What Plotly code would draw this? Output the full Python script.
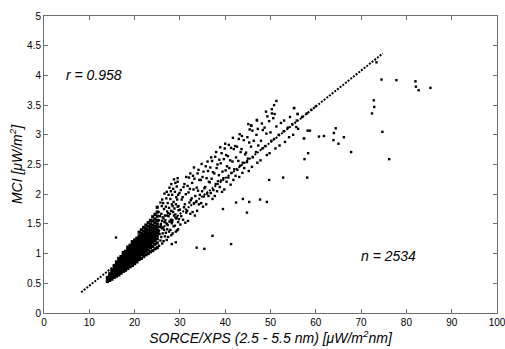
import plotly.graph_objects as go

# ---- dense core: columns of x with the y values read in each column ----
core_x = [14.0, 14.5, 15.0, 15.5, 16.0, 16.5, 17.0, 17.5, 18.0, 18.5, 19.0, 19.5,
          20.0, 20.5, 21.0, 21.5, 22.0, 22.5, 23.0, 23.5, 24.0, 24.5, 25.0]
core_y = [
    [0.53, 0.56, 0.60],
    [0.55, 0.58, 0.62, 0.66],
    [0.57, 0.61, 0.65, 0.69, 0.73],
    [0.60, 0.64, 0.68, 0.72, 0.76, 0.80],
    [0.62, 0.66, 0.70, 0.74, 0.78, 0.82, 0.86],
    [0.64, 0.68, 0.72, 0.76, 0.80, 0.84, 0.88, 0.92],
    [0.67, 0.71, 0.75, 0.79, 0.83, 0.87, 0.91, 0.95],
    [0.70, 0.74, 0.78, 0.82, 0.86, 0.90, 0.94, 0.98, 1.02],
    [0.72, 0.76, 0.80, 0.84, 0.88, 0.92, 0.96, 1.00, 1.04],
    [0.75, 0.79, 0.83, 0.87, 0.91, 0.95, 0.99, 1.03, 1.07, 1.11],
    [0.78, 0.82, 0.86, 0.90, 0.94, 0.98, 1.02, 1.06, 1.10, 1.14],
    [0.80, 0.84, 0.88, 0.92, 0.96, 1.00, 1.04, 1.08, 1.12, 1.16, 1.20],
    [0.83, 0.87, 0.91, 0.95, 0.99, 1.03, 1.07, 1.11, 1.15, 1.19, 1.23],
    [0.86, 0.90, 0.94, 0.98, 1.02, 1.06, 1.10, 1.14, 1.18, 1.22, 1.26],
    [0.90, 0.94, 0.98, 1.02, 1.06, 1.10, 1.14, 1.18, 1.22, 1.26, 1.30, 1.36],
    [0.92, 0.98, 1.02, 1.06, 1.10, 1.14, 1.18, 1.22, 1.26, 1.30, 1.34, 1.40],
    [0.95, 1.00, 1.05, 1.09, 1.13, 1.17, 1.21, 1.25, 1.29, 1.33, 1.38, 1.44],
    [0.98, 1.04, 1.08, 1.12, 1.16, 1.20, 1.24, 1.28, 1.32, 1.37, 1.42, 1.48],
    [1.00, 1.06, 1.11, 1.15, 1.19, 1.23, 1.27, 1.31, 1.35, 1.40, 1.46, 1.52],
    [1.03, 1.10, 1.15, 1.19, 1.23, 1.27, 1.31, 1.35, 1.40, 1.45, 1.50, 1.56],
    [1.05, 1.12, 1.18, 1.22, 1.26, 1.30, 1.34, 1.38, 1.43, 1.48, 1.55, 1.62],
    [1.08, 1.16, 1.22, 1.27, 1.32, 1.36, 1.41, 1.46, 1.52, 1.58, 1.66],
    [1.10, 1.18, 1.25, 1.30, 1.35, 1.40, 1.45, 1.50, 1.56, 1.63, 1.70, 1.78],
]

# ---- transition zone, x 25-30 ----
trans_x = [
    25.4, 25.7, 25.5, 25.3, 25.6, 25.8, 25.4, 25.6, 25.3, 25.7,
    26.1, 25.9, 26.2, 26.0, 25.8, 26.1, 26.2, 25.9, 26.0, 26.1,
    26.4, 26.7, 26.5, 26.3, 26.6, 26.4, 26.7, 26.5, 26.3, 26.6,
    27.1, 26.9, 27.2, 27.0, 26.8, 27.1, 27.2, 26.9, 27.0, 27.1,
    27.4, 27.6, 27.3, 27.7, 27.5, 27.4, 27.6, 27.3, 27.5, 27.7,
    28.1, 27.9, 28.2, 28.0, 27.8, 28.1, 28.2, 27.9, 28.0, 28.1,
    28.4, 28.6, 28.3, 28.7, 28.5, 28.4, 28.6, 28.3, 28.5, 28.7,
    29.1, 28.9, 29.2, 29.0, 28.8, 29.1, 29.2, 28.9, 29.0,
    29.4, 29.6, 29.3, 29.7, 29.5, 29.4, 29.6, 29.3, 29.5,
]
trans_y = [
    1.13, 1.22, 1.33, 1.37, 1.45, 1.50, 1.56, 1.63, 1.70, 1.86,
    1.17, 1.28, 1.34, 1.43, 1.47, 1.55, 1.61, 1.67, 1.80, 1.91,
    1.21, 1.29, 1.40, 1.44, 1.53, 1.59, 1.64, 1.75, 1.85, 2.01,
    1.23, 1.35, 1.41, 1.51, 1.56, 1.64, 1.71, 1.79, 1.93, 2.04,
    1.28, 1.37, 1.48, 1.54, 1.63, 1.68, 1.77, 1.85, 1.99, 2.11,
    1.31, 1.40, 1.51, 1.57, 1.67, 1.72, 1.83, 1.92, 2.05, 2.17,
    1.34, 1.46, 1.54, 1.64, 1.70, 1.80, 1.87, 1.99, 2.09, 2.25,
    1.37, 1.47, 1.59, 1.66, 1.76, 1.83, 1.95, 2.04, 2.19,
    1.39, 1.53, 1.61, 1.73, 1.79, 1.91, 1.99, 2.13, 2.27,
]

# ---- sparser cloud, x 30-60 ----
cloud_x = [
    29.6, 30.1, 29.8, 30.3, 30.0, 29.7, 30.4, 29.9, 30.2, 29.5,
    31.2, 30.7, 31.4, 30.9, 31.1, 30.6, 31.3, 30.8, 31.0, 31.4,
    31.8, 32.3, 31.6, 32.1, 32.4, 31.9, 32.2, 31.7, 32.0, 32.3,
    33.3, 32.8, 33.1, 32.6, 33.4, 33.0, 32.7, 33.2, 32.9, 33.1,
    33.8, 34.2, 33.6, 34.4, 34.0, 33.7, 34.3, 33.9, 34.1,
    35.1, 34.7, 35.3, 34.9, 35.4, 34.6, 35.0, 35.2, 34.8,
    35.8, 36.3, 36.0, 35.6, 36.4, 35.9, 36.2, 35.7, 36.1,
    37.2, 36.8, 37.4, 36.6, 37.0, 37.3, 36.7, 37.1, 36.9,
    37.7, 38.2, 37.9, 38.4, 37.6, 38.1, 38.3, 37.8, 38.0,
    39.3, 38.8, 39.1, 38.6, 39.4, 39.0, 38.7, 39.2, 38.9,
    39.8, 40.3, 39.6, 40.1, 40.4, 39.7, 40.2, 39.9, 40.0,
    41.2, 40.7, 41.4, 40.9, 41.1, 40.6, 41.3, 40.8,
    41.8, 42.3, 42.0, 41.6, 42.4, 41.9, 42.2, 41.7,
    43.1, 42.7, 43.3, 42.9, 43.4, 42.6, 43.0, 43.2,
    43.8, 44.2, 43.9, 44.4, 43.6, 44.1, 43.7,
    45.2, 44.8, 45.0, 44.6, 45.3, 44.9, 45.4,
    45.9, 46.1, 45.7, 46.3, 46.0, 45.8,
    47.1, 46.8, 47.3, 46.9, 47.2, 47.0,
    47.8, 48.2, 47.9, 48.3, 48.1,
    49.2, 48.8, 49.1, 48.7, 49.3, 49.0,
    49.8, 50.2, 50.0, 49.7, 50.3,
    51.1, 50.8, 51.3, 50.9, 51.3,
    52.0, 51.8, 52.3, 53.2, 52.9, 53.0, 54.1, 53.8, 54.3, 55.0, 54.8, 55.2,
    56.1, 55.8, 56.0, 57.0, 57.4, 58.0, 58.2, 59.0, 60.0,
]
cloud_y = [
    1.41, 1.49, 1.58, 1.63, 1.74, 1.80, 1.91, 2.02, 2.07, 2.21,
    1.52, 1.57, 1.69, 1.78, 1.83, 1.95, 2.00, 2.12, 2.17, 2.29,
    1.55, 1.67, 1.72, 1.86, 1.90, 2.03, 2.09, 2.14, 2.28, 2.35,
    1.64, 1.70, 1.84, 1.93, 1.97, 2.08, 2.19, 2.26, 2.31, 2.45,
    1.72, 1.83, 1.87, 1.99, 2.06, 2.11, 2.24, 2.35, 2.41,
    1.79, 1.85, 1.96, 2.05, 2.10, 2.24, 2.29, 2.38, 2.51,
    1.83, 1.97, 2.01, 2.12, 2.21, 2.27, 2.39, 2.47, 2.55,
    1.92, 2.02, 2.07, 2.20, 2.26, 2.37, 2.45, 2.56, 2.62,
    1.97, 2.05, 2.17, 2.22, 2.35, 2.44, 2.50, 2.63, 2.71,
    2.04, 2.12, 2.23, 2.32, 2.38, 2.52, 2.58, 2.69, 2.79,
    2.08, 2.21, 2.27, 2.40, 2.47, 2.59, 2.66, 2.77, 2.85,
    2.16, 2.28, 2.36, 2.44, 2.57, 2.64, 2.78, 2.83,
    2.24, 2.31, 2.42, 2.55, 2.62, 2.76, 2.81, 2.95,
    2.29, 2.41, 2.48, 2.56, 2.71, 2.80, 2.93, 3.01,
    2.36, 2.44, 2.53, 2.67, 2.76, 2.91, 2.98,
    2.39, 2.54, 2.60, 2.70, 2.87, 2.96, 3.09,
    2.46, 2.62, 2.80, 2.90, 3.07, 3.15,
    2.53, 2.71, 2.82, 3.00, 3.10, 3.25,
    2.57, 2.77, 2.90, 3.08, 3.19,
    2.66, 2.81, 3.02, 3.12, 3.31, 3.39,
    2.69, 2.90, 3.04, 3.23, 3.43,
    2.77, 2.93, 3.14, 3.35, 3.57,
    2.82, 3.00, 3.20, 2.88, 3.06, 3.24, 2.96, 3.12, 3.30, 3.00, 3.18, 3.45,
    3.10, 3.24, 3.35, 3.30, 2.94, 3.36, 3.07, 3.42, 3.48,
]

# ---- isolated points read individually ----
outlier_x = [15.9, 28.2, 29.1, 33.7, 35.4, 37.2, 41.3, 39.5, 42.4, 43.9, 44.8, 45.3,
             47.7, 49.2, 49.7, 52.8, 58.1, 57.5, 58.3, 60.7, 58.7, 55.2, 56.0, 50.8,
             50.3, 50.6, 47.0, 45.7, 45.1, 55.7, 57.4,
             61.8, 64.4, 64.0, 63.9, 65.0, 66.2, 67.8, 72.8, 72.9, 72.4, 74.7, 76.2,
             73.4, 74.5, 77.8, 82.0, 82.1, 82.7, 85.3]
outlier_y = [1.27, 1.16, 1.19, 1.10, 1.08, 1.30, 1.16, 1.75, 1.86, 1.92, 1.69, 1.87,
             1.91, 1.87, 2.24, 2.28, 2.28, 2.59, 2.69, 2.97, 3.07, 3.45, 3.35, 3.50,
             3.36, 3.28, 3.24, 3.16, 3.18, 3.13, 2.94,
             2.98, 3.11, 3.03, 2.91, 2.85, 2.96, 2.71, 3.58, 3.47, 3.36, 3.05, 2.59,
             4.22, 3.93, 3.92, 3.90, 3.81, 3.75, 3.79]

# ---- regression line end points ----
fit_x = [8.2, 74.8]
fit_y = [0.35, 4.37]

x_ticks = [0, 10, 20, 30, 40, 50, 60, 70, 80, 90, 100]
y_ticks = [0, 0.5, 1, 1.5, 2, 2.5, 3, 3.5, 4, 4.5, 5]

r_label = "r = 0.958"
n_label = "n = 2534"

core_px, core_py = [], []
for cx, ys in zip(core_x, core_y):
    for yv in ys:
        core_px.append(cx)
        core_py.append(yv)
rest_x = trans_x + cloud_x + outlier_x
rest_y = trans_y + cloud_y + outlier_y

FONT = "Arial, Liberation Sans, Helvetica, sans-serif"

fig = go.Figure()
fig.add_trace(go.Scatter(
    x=core_px, y=core_py, mode="markers",
    marker=dict(symbol="square", size=3.2, color="black", line=dict(width=0)),
    hoverinfo="skip", showlegend=False))
fig.add_trace(go.Scatter(
    x=rest_x, y=rest_y, mode="markers",
    marker=dict(symbol="square", size=2.4, color="black", line=dict(width=0)),
    hoverinfo="skip", showlegend=False))
fig.add_trace(go.Scatter(
    x=fit_x, y=fit_y, mode="lines",
    line=dict(color="black", width=2, dash="2px,1.4px"),
    hoverinfo="skip", showlegend=False))

fig.add_annotation(x=11.1, y=4.0, xref="x", yref="y", text="<i>" + r_label + "</i>",
                   showarrow=False, font=dict(family=FONT, size=14, color="black"))
fig.add_annotation(x=76.1, y=0.965, xref="x", yref="y", text="<i>" + n_label + "</i>",
                   showarrow=False, font=dict(family=FONT, size=14, color="black"))

axis_common = dict(
    showgrid=False, zeroline=False, showline=True, linecolor="#6e6e6e", linewidth=1,
    mirror="ticks", ticks="inside", ticklen=4, tickcolor="#6e6e6e", tickwidth=1,
    tickfont=dict(family=FONT, size=10, color="black"), ticklabeloverflow="allow",
    automargin=False,
)

fig.update_layout(
    width=505, height=349,
    margin=dict(l=44, r=8, t=16, b=36),
    paper_bgcolor="white", plot_bgcolor="white",
    xaxis=dict(range=[0, 100], tickvals=x_ticks, ticktext=[str(v) for v in x_ticks],
               title=dict(text="<i>SORCE/XPS (2.5 - 5.5 nm) [μW/m<sup>2</sup>nm]</i>",
                          font=dict(family=FONT, size=14, color="black"), standoff=2),
               **axis_common),
    yaxis=dict(range=[0, 5], tickvals=y_ticks, ticktext=[f"{v:g}" for v in y_ticks],
               title=dict(text="<i>MCI [μW/m<sup>2</sup>]</i>",
                          font=dict(family=FONT, size=14, color="black"), standoff=1),
               **axis_common),
)

fig.write_html("out.html")
